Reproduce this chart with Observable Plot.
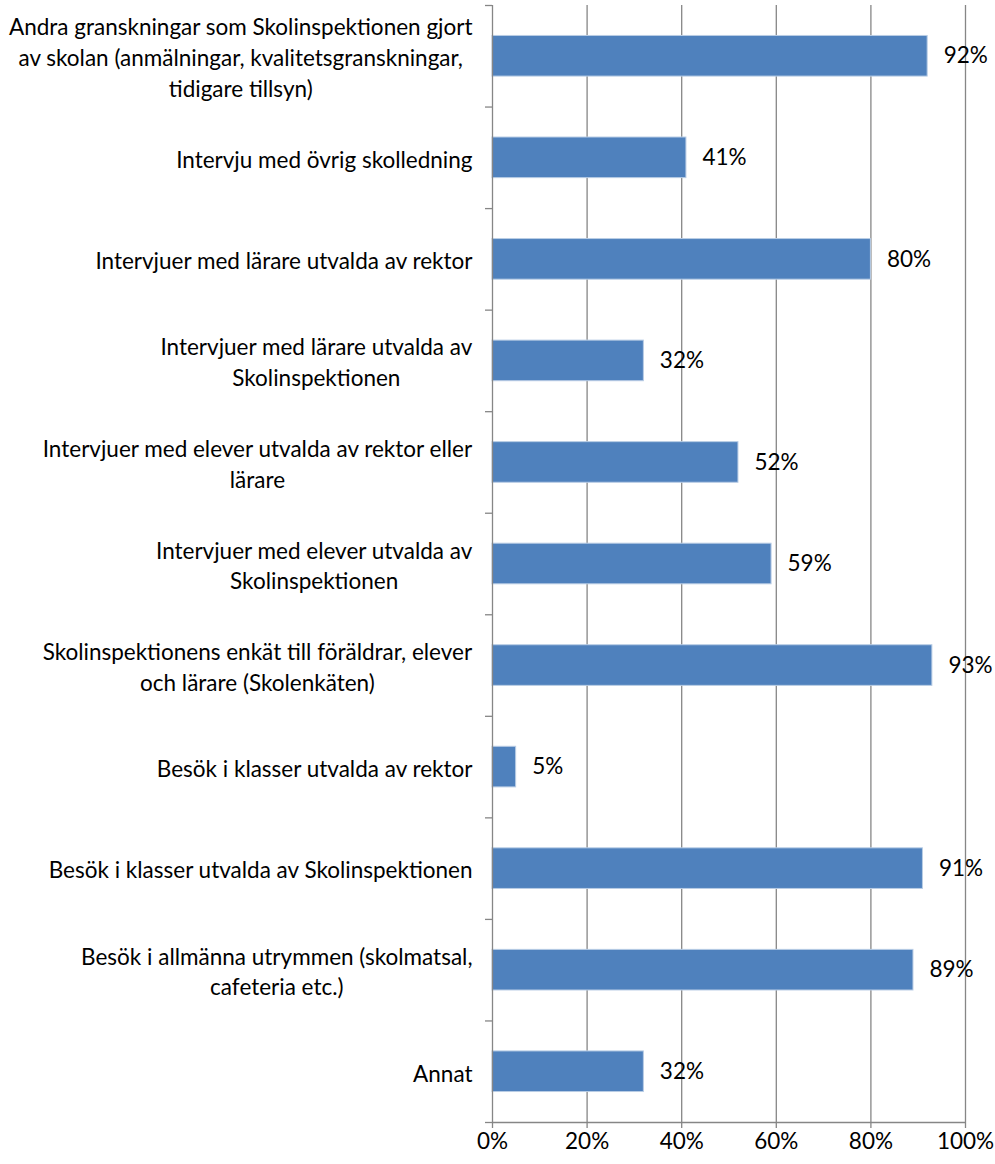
<!DOCTYPE html>
<html>
<head>
<meta charset="utf-8">
<script src="https://cdn.jsdelivr.net/npm/d3@7"></script>
<script src="https://cdn.jsdelivr.net/npm/@observablehq/plot@0.6"></script>
<style>
  body { margin: 0; background: #fff; }
  #chart { width: 995px; height: 1164px; }
</style>
</head>
<body>
<div id="chart"></div>
<script>
const categories = [
  "Andra granskningar som Skolinspektionen gjort\nav skolan (anmälningar, kvalitetsgranskningar,\ntidigare tillsyn)",
  "Intervju med övrig skolledning",
  "Intervjuer med lärare utvalda av rektor",
  "Intervjuer med lärare utvalda av\nSkolinspektionen",
  "Intervjuer med elever utvalda av rektor eller\nlärare",
  "Intervjuer med elever utvalda av\nSkolinspektionen",
  "Skolinspektionens enkät till föräldrar, elever\noch lärare (Skolenkäten)",
  "Besök i klasser utvalda av rektor",
  "Besök i klasser utvalda av Skolinspektionen",
  "Besök i allmänna utrymmen (skolmatsal,\ncafeteria etc.)",
  "Annat"
];
const values = [92, 41, 80, 32, 52, 59, 93, 5, 91, 89, 32];
const xTicks = [0, 20, 40, 60, 80, 100];
const xTickLabels = ["0%", "20%", "40%", "60%", "80%", "100%"];

const rows = categories.map((label, i) => ({label, value: values[i], i}));
const boundaries = d3.range(0, categories.length + 1);

const FS = 22.5;
const grid = "#868686";

const plot = Plot.plot({
  width: 995,
  height: 1164,
  marginLeft: 492,
  marginRight: 30,
  marginTop: 5,
  marginBottom: 42,
  style: {fontFamily: "Lato, 'Noto Sans', sans-serif", fontSize: FS + "px", color: "#000", background: "#fff"},
  x: {domain: [0, 100], axis: null},
  y: {domain: [0, categories.length], reverse: true, axis: null},
  marks: [
    Plot.ruleX(xTicks.slice(1), {stroke: grid, strokeWidth: 1.3}),
    Plot.rectX(rows, {
      x1: 0, x2: "value",
      y1: d => d.i + 0.3, y2: d => d.i + 0.7,
      fill: "#4F81BD", stroke: "#B9CDE5", strokeWidth: 1
    }),
    Plot.ruleX([0], {stroke: grid, strokeWidth: 1.3}),
    Plot.ruleY([categories.length], {stroke: grid, strokeWidth: 1.3}),
    Plot.axisX({
      anchor: "bottom", ticks: xTicks, tickSize: 6, tickPadding: 5,
      tickFormat: d => xTickLabels[xTicks.indexOf(d)],
      stroke: grid, strokeWidth: 1.3, fill: "#000", fontSize: FS, label: null
    }),
    Plot.axisY({
      anchor: "left", ticks: boundaries, tickSize: 7,
      tickFormat: () => "", stroke: grid, strokeWidth: 1.3, label: null
    }),
    Plot.text(rows, {
      x: 0, y: d => d.i + 0.5, text: "label",
      textAnchor: "end", dx: -20, lineHeight: 1.36, fontSize: FS, fill: "#000"
    }),
    Plot.text(rows, {
      x: "value", y: d => d.i + 0.5, text: d => d.value + "%",
      textAnchor: "start", dx: 16, fontSize: FS, fill: "#000"
    })
  ]
});

document.getElementById("chart").append(plot);

// Center wrapped lines within their right-aligned block (as in the original)
plot.querySelectorAll("text").forEach(t => {
  const tsp = t.querySelectorAll("tspan");
  if (tsp.length < 2) return;
  const w = t.getBBox().width;
  t.setAttribute("text-anchor", "middle");
  t.style.textAnchor = "middle";
  tsp.forEach(s => {
    const x0 = parseFloat(s.getAttribute("x") || "0") || 0;
    s.setAttribute("x", x0 - w / 2);
    s.setAttribute("text-anchor", "middle");
  });
});
</script>
</body>
</html>
